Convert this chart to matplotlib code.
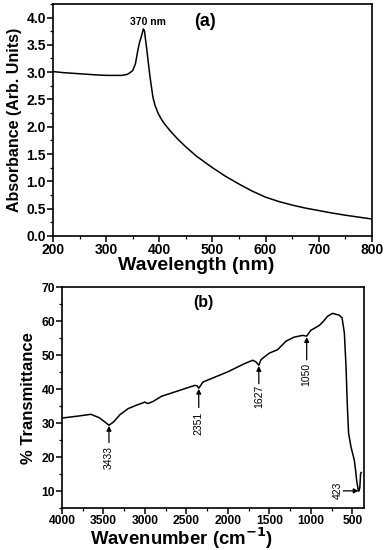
import numpy as np
import matplotlib
matplotlib.use('Agg')
import matplotlib.pyplot as plt
from matplotlib.ticker import MultipleLocator

plt.rcParams['font.family'] = ['Liberation Sans', 'DejaVu Sans']

# (a) UV-vis absorbance
wl = [200, 220, 250, 280, 300, 320, 330, 340, 345, 350, 355, 360, 363, 367, 370,
      372, 374, 376, 379, 382, 385, 388, 392, 398, 405, 410, 420, 435,
      450, 470, 500, 525, 550, 575, 600, 625, 650, 675, 700, 725, 750, 775, 800]
absorb = [3.01, 2.99, 2.97, 2.95, 2.94, 2.94, 2.94, 2.96, 2.99, 3.03, 3.15, 3.42, 3.55,
          3.68, 3.79, 3.76, 3.6, 3.45, 3.2, 2.95, 2.74, 2.54, 2.39, 2.24, 2.12, 2.05,
          1.93, 1.77, 1.63, 1.46, 1.25, 1.09, 0.95, 0.82, 0.71, 0.63, 0.565, 0.51,
          0.465, 0.42, 0.38, 0.345, 0.31]

# (b) FTIR transmittance
wn = [4000, 3800, 3650, 3550, 3480, 3433, 3380, 3300, 3200, 3100, 3000, 2970, 2950,
      2900, 2800, 2600, 2400, 2370, 2351, 2330, 2300, 2100, 2000, 1800, 1700, 1660,
      1627, 1600, 1500, 1400, 1300, 1200, 1100, 1050, 1000, 900, 850, 800, 737, 700,
      660, 624, 596, 576, 560, 545, 516, 476, 460, 448, 430, 423, 410, 400, 392]
trans = [31.5, 32.1, 32.6, 31.6, 30.3, 29.4, 30.3, 32.5, 34.3, 35.3, 36.2, 35.8, 35.9,
         36.4, 37.9, 39.5, 41.1, 41.0, 40.3, 41.0, 42.1, 44.1, 45.1, 47.5, 48.5, 48.0,
         47.0, 48.7, 50.6, 51.6, 54.1, 55.3, 55.8, 55.6, 57.3, 58.7, 59.9, 61.4, 62.3,
         62.0, 61.8, 61.0, 56.5, 46.6, 35.0, 27.0, 23.0, 19.1, 16.0, 13.2, 10.5, 10.0,
         11.0, 15.3, 15.5]

peaks = [3433, 2351, 1627, 1050]
peak_head = [29.2, 40.1, 46.8, 55.3]
peak_label_y = [20.0, 30.0, 37.8, 44.2]
peak_tail = [24.3, 34.6, 41.6, 48.6]

fig = plt.figure(figsize=(3.87, 5.5), dpi=100)

# panel (a)
ax1 = fig.add_axes([0.137, 0.571, 0.824, 0.422])
ax1.plot(wl, absorb, color='black', lw=1.1)
ax1.set_xlim(200, 800)
ax1.set_ylim(0, 4.25)
ax1.xaxis.set_major_locator(MultipleLocator(100))
ax1.xaxis.set_minor_locator(MultipleLocator(50))
ax1.yaxis.set_major_locator(MultipleLocator(0.5))
ax1.yaxis.set_minor_locator(MultipleLocator(0.25))
ax1.set_xlabel('Wavelength (nm)', fontsize=14, fontweight='bold')
ax1.xaxis.set_label_coords(0.448, -0.092)
ax1.set_ylabel('Absorbance (Arb. Units)', fontsize=11.5, fontweight='bold', labelpad=3)
ax1.text(378, 3.92, '370 nm', fontsize=7.5, fontweight='bold', ha='center', va='center')
ax1.text(0.476, 0.924, '(a)', transform=ax1.transAxes, fontsize=13, fontweight='bold',
         ha='center', va='center')
for lab in ax1.get_xticklabels() + ax1.get_yticklabels():
    lab.set_fontweight('bold')
ax1.tick_params(which='major', labelsize=10, length=4, width=1.1, pad=1)

# panel (b)
ax2 = fig.add_axes([0.160, 0.076, 0.780, 0.402])
ax2.plot(wn, trans, color='black', lw=1.1)
ax2.set_xlim(4000, 362)
ax2.set_ylim(5, 70)
ax2.xaxis.set_major_locator(MultipleLocator(500))
ax2.xaxis.set_minor_locator(MultipleLocator(250))
ax2.yaxis.set_major_locator(MultipleLocator(10))
ax2.yaxis.set_minor_locator(MultipleLocator(5))
ax2.set_xlabel('Wavenumber (cm$^{\\mathbf{-1}}$)', fontsize=13.4, fontweight='bold')
ax2.xaxis.set_label_coords(0.397, -0.08)
ax2.set_ylabel('% Transmittance', fontsize=12, fontweight='bold', labelpad=4)
ax2.text(0.467, 0.93, '(b)', transform=ax2.transAxes, fontsize=11.5, fontweight='bold',
         ha='center', va='center')
for lab in ax2.get_xticklabels() + ax2.get_yticklabels():
    lab.set_fontweight('bold')
ax2.tick_params(which='major', labelsize=8.7, length=4, width=1.1, pad=1)

for x, yh, yt, yl in zip(peaks, peak_head, peak_tail, peak_label_y):
    ax2.annotate('', xy=(x, yh), xytext=(x, yt),
                 arrowprops=dict(arrowstyle='-|>', color='black', lw=0.9,
                                 mutation_scale=7, shrinkA=0, shrinkB=0))
    ax2.text(x, yl, str(x), rotation=90, fontsize=7.5, ha='center', va='center')

ax2.annotate('', xy=(425, 10.1), xytext=(610, 10.1),
             arrowprops=dict(arrowstyle='-|>', color='black', lw=0.9,
                             mutation_scale=7, shrinkA=0, shrinkB=0))
ax2.text(680, 10.3, '423', rotation=90, fontsize=7.5, ha='center', va='center')

for ax in (ax1, ax2):
    for sp in ax.spines.values():
        sp.set_linewidth(1.2)
    ax.tick_params(which='minor', length=2, width=0.9)
    ax.tick_params(which='both', direction='out', top=False, right=False)

fig.savefig('out.png', dpi=100)
